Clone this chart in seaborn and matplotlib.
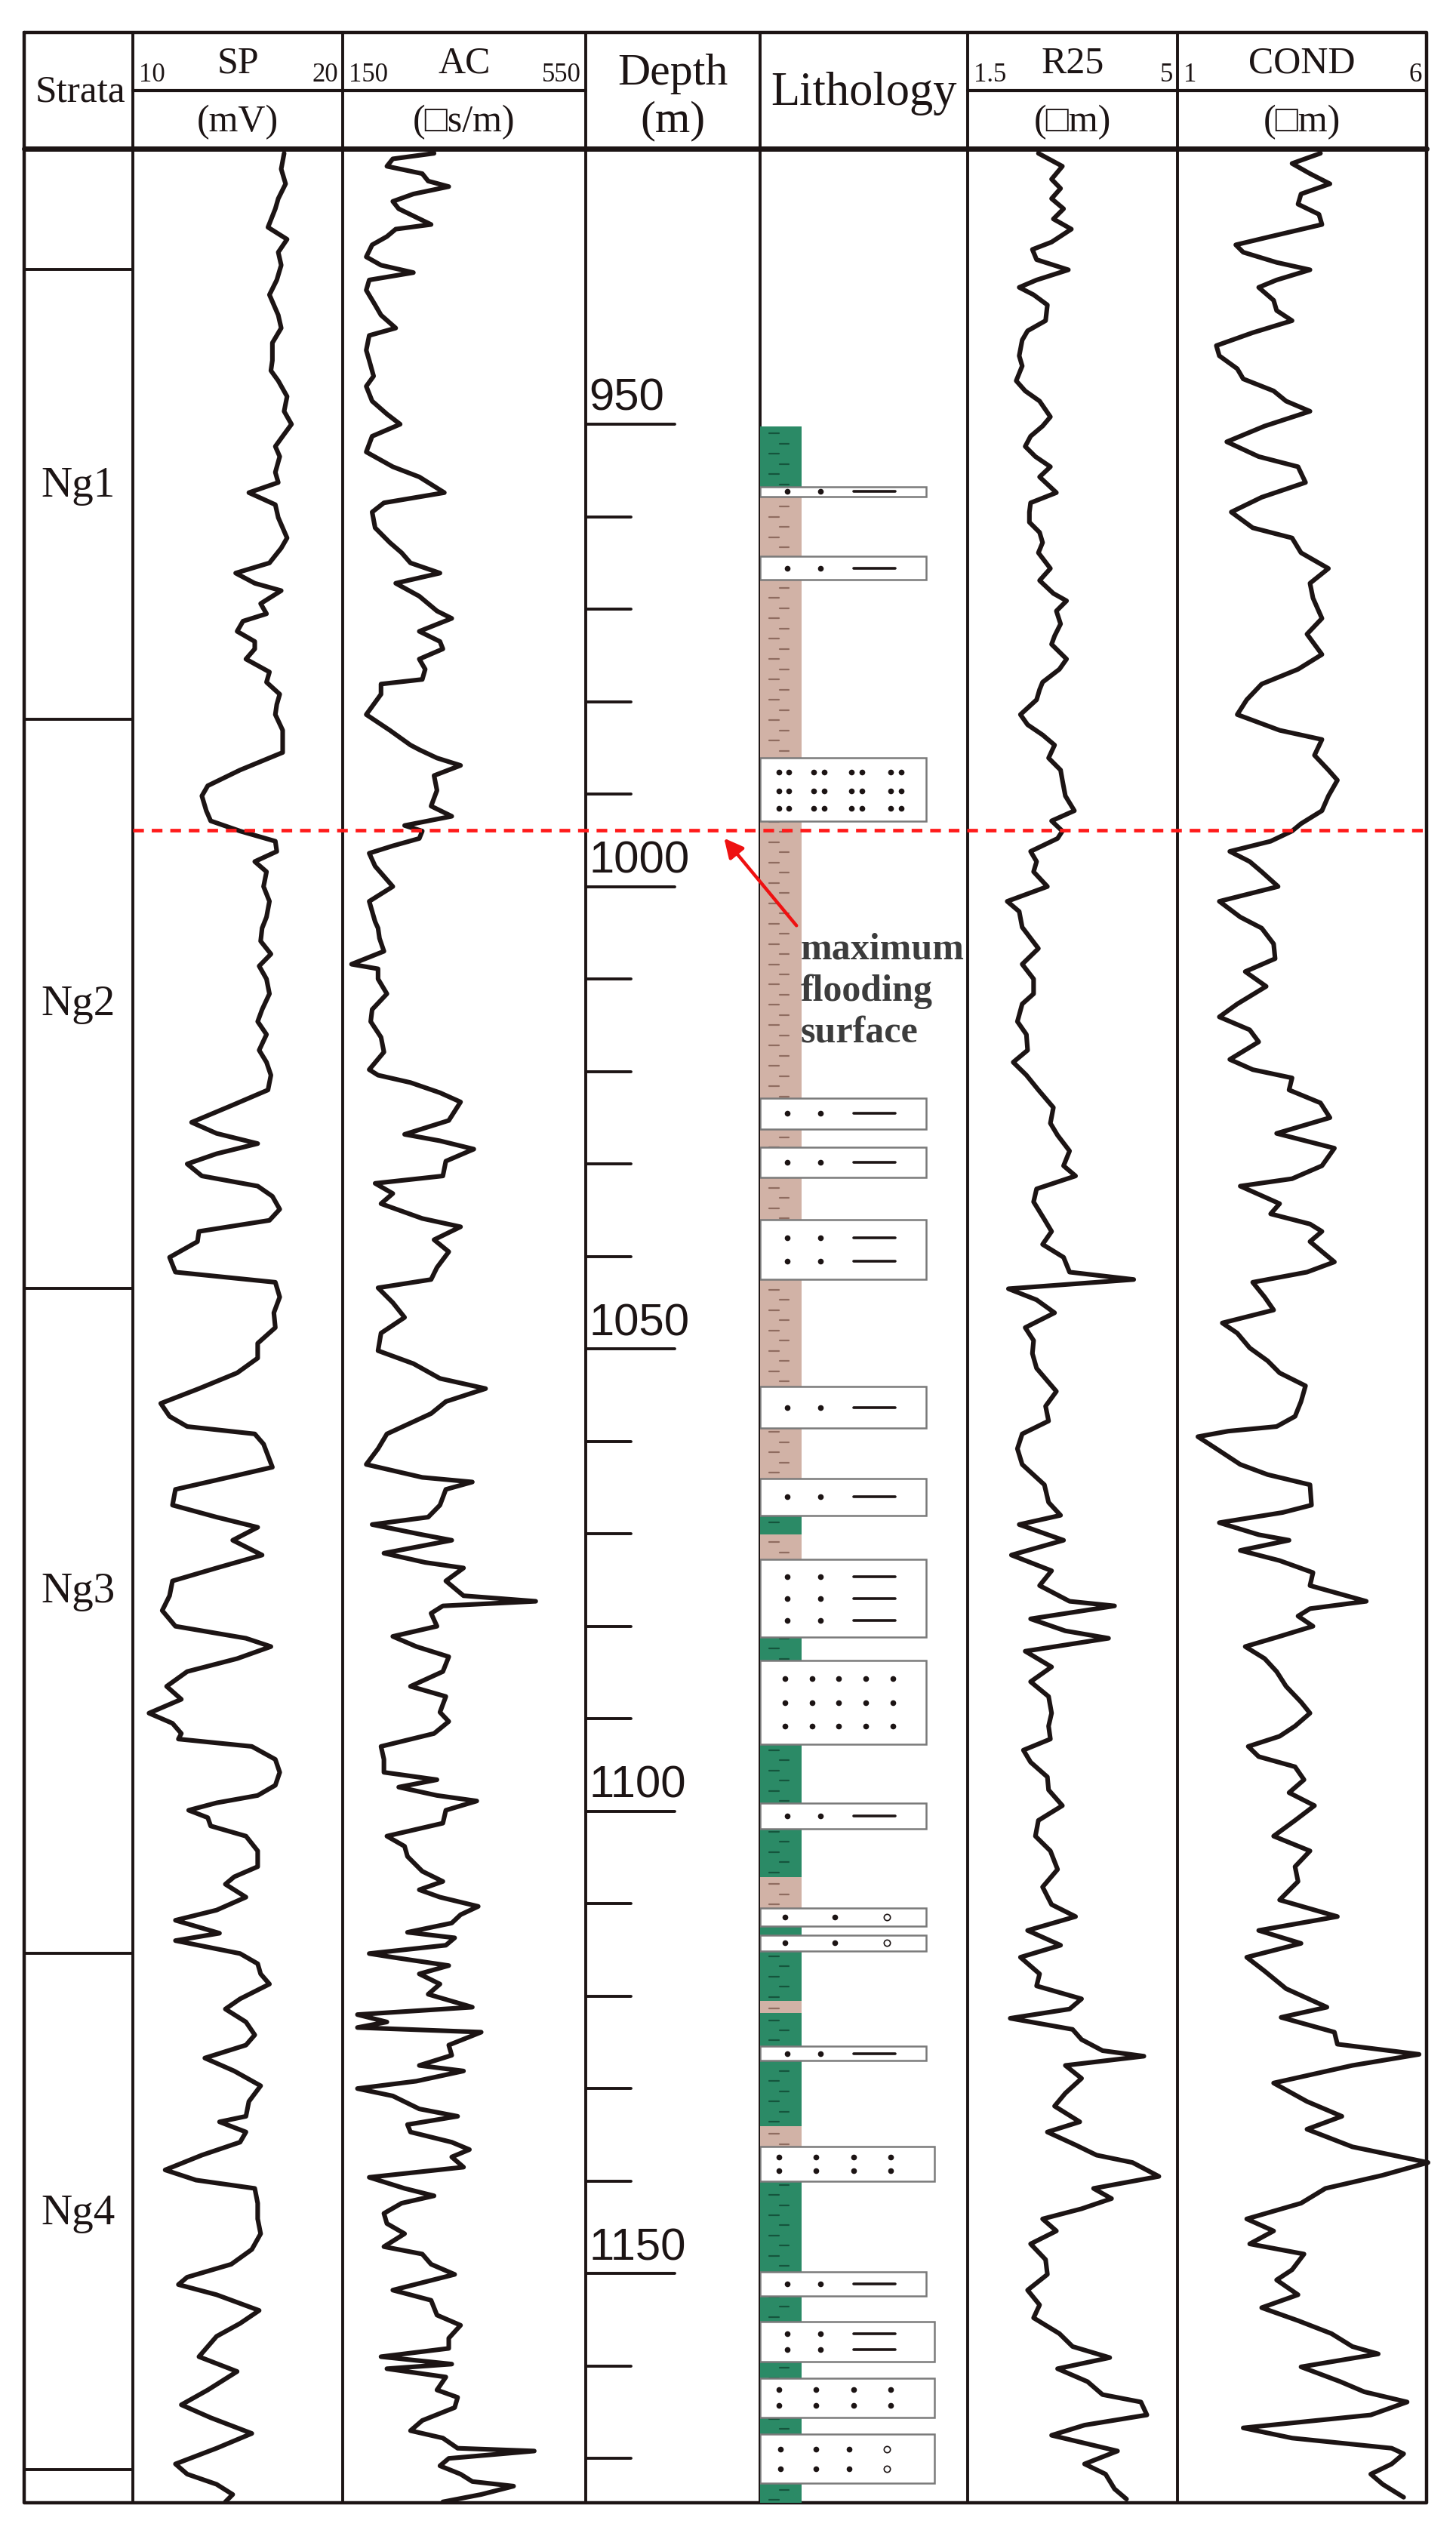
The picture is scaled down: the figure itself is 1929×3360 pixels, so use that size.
import numpy as np
import matplotlib.pyplot as plt
import seaborn as sns

sns.set_style('white')
plt.rcParams['font.family'] = ['Liberation Serif', 'DejaVu Sans']

sp_depth = [920.7, 922.4, 924.0, 925.6, 926.7, 928.7, 930.0, 931.4, 932.8, 934.4,
            936.0, 938.2, 939.6, 941.2, 943.1, 944.2, 945.3, 947.0, 948.6, 950.0,
            951.3, 952.4, 953.5, 955.2, 956.3, 957.4, 958.7, 960.1, 962.3, 963.4,
            965.0, 966.1, 967.2, 968.0, 969.4, 970.5, 971.3, 972.4, 973.5, 974.3,
            975.4, 976.8, 977.9, 979.2, 980.3, 981.4, 983.1, 985.5, 987.4, 989.1,
            990.2, 991.8, 992.9, 994.0, 995.1, 996.2, 997.3, 998.4, 1000.0, 1001.6,
            1003.3,
            1004.5, 1005.9, 1007.3, 1008.6, 1010.0, 1011.6, 1013.3, 1014.6, 1016.0, 1017.7,
            1019.0, 1020.4, 1022.0, 1023.7, 1025.5, 1026.7, 1027.8, 1028.9, 1030.0, 1031.3,
            1032.4, 1033.5, 1034.9, 1036.1, 1037.3, 1038.4, 1040.1, 1041.7, 1042.8, 1044.4,
            1046.1, 1047.7, 1049.4, 1051.0, 1052.6, 1054.3, 1055.9, 1057.3, 1058.4, 1059.2,
            1060.3, 1062.8, 1063.9, 1065.2, 1066.9, 1068.2, 1069.3, 1070.7, 1072.3, 1073.7,
            1075.1, 1076.7, 1078.3, 1080.0, 1081.3, 1082.2, 1083.5, 1084.9, 1086.5, 1087.9,
            1089.4, 1090.5, 1091.6, 1092.2, 1093.0, 1094.4, 1095.8, 1097.2, 1098.3, 1099.1,
            1099.9, 1100.7, 1101.6, 1102.7, 1104.3, 1106.0, 1107.1, 1107.9, 1109.3, 1110.7,
            1111.8, 1113.2, 1114.0, 1115.4, 1116.5, 1117.6, 1118.7, 1120.3, 1121.4, 1122.8,
            1124.2, 1125.3, 1126.7, 1128.1, 1129.7, 1131.4, 1133.0, 1133.6, 1134.7, 1135.8,
            1137.2, 1138.8, 1139.9, 1140.8, 1142.4, 1144.1, 1145.7, 1147.4, 1149.0, 1150.4,
            1151.2, 1152.3, 1154.0, 1155.4, 1156.8, 1157.9, 1159.0, 1160.6, 1162.6, 1164.2,
            1165.6, 1167.3, 1168.9, 1170.6, 1171.7, 1172.8, 1173.9, 1174.7]
sp_value = [17.21, 17.07, 17.28, 16.93, 16.79, 16.44, 17.35, 16.93, 17.07, 16.86,
            16.51, 16.93, 17.07, 16.65, 16.65, 16.58, 16.93, 17.35, 17.21, 17.56,
            17.14, 16.79, 17.0, 16.79, 16.93, 15.53, 16.79, 16.93, 17.35, 17.07,
            16.51, 14.90, 15.81, 17.07, 16.09, 16.37, 15.25, 14.97, 15.81, 15.81,
            15.39, 16.51, 16.37, 17.0, 16.86, 16.79, 17.14, 17.14, 15.11, 13.57,
            13.29, 13.50, 13.71, 15.11, 16.79, 16.86, 15.81, 16.37, 16.23, 16.51,
            16.37,
            16.16, 16.09, 16.58, 16.02, 16.37, 16.51, 16.16, 15.95, 16.37, 16.02,
            16.37, 16.58, 16.44, 14.69, 12.80, 13.99, 15.95, 13.99, 12.59, 13.29,
            15.95, 16.65, 17.0, 16.51, 13.15, 13.08, 11.75, 12.03, 16.79, 17.0,
            16.72, 16.79, 15.95, 15.95, 14.97, 13.15, 11.33, 11.75, 12.59, 15.81,
            16.23, 16.65, 14.55, 12.03, 11.89, 13.99, 15.95, 14.76, 16.16, 13.99,
            11.89, 11.75, 11.40, 12.03, 15.39, 16.58, 14.97, 12.59, 11.61, 12.31,
            10.77, 11.89, 12.31, 12.17, 15.67, 16.79, 17.0, 16.79, 15.95, 13.99,
            12.66, 13.57, 13.71, 15.39, 15.95, 15.95, 14.83, 14.41, 15.39, 13.99,
            12.03, 14.13, 12.03, 15.11, 15.95, 16.09, 16.51, 15.11, 14.41, 15.39,
            15.81, 15.39, 13.43, 14.83, 16.09, 15.53, 15.39, 14.13, 15.39, 15.11,
            13.29, 11.54, 13.01, 15.81, 15.95, 15.95, 16.09, 15.67, 14.69, 12.59,
            12.17, 13.99, 16.02, 15.11, 13.99, 13.57, 13.15, 14.97, 13.57, 12.31,
            13.71, 15.67, 13.99, 12.03, 12.59, 13.99, 14.76, 14.41]

ac_depth = [920.7, 921.3, 922.1, 922.9, 923.7, 924.3, 925.1, 925.9, 926.7, 928.4,
            928.9, 929.7, 930.6, 931.9, 932.8, 933.6, 934.4, 935.5, 937.1, 938.2,
            939.6, 940.4, 942.0, 943.1, 944.8, 945.9, 947.5, 948.9, 950.0, 951.3,
            953.0, 954.6, 955.7, 957.4, 958.5, 959.5, 961.2, 962.8, 963.9, 965.0,
            966.1, 967.2, 968.6, 970.2, 971.0, 972.4, 973.5, 974.3, 975.4, 976.5,
            977.6, 978.1, 979.2, 981.4, 983.1, 984.7, 985.2, 986.1, 986.9, 988.0,
            989.6, 991.3, 992.4, 993.4, 994.0, 994.8, 995.6, 996.4, 997.8, 1000.0,
            1001.6, 1003.8,
            1004.5, 1005.6, 1007.0, 1008.4, 1008.9, 1010.0, 1011.6, 1013.3, 1014.6, 1016.3,
            1017.9, 1019.8, 1020.4, 1021.2, 1022.3, 1023.3, 1025.3, 1026.8, 1027.5, 1028.4,
            1029.7, 1031.3, 1032.1, 1033.2, 1034.3, 1035.9, 1036.8, 1038.2, 1039.5, 1041.2,
            1042.5, 1043.4, 1045.0, 1046.6, 1048.3, 1050.2, 1051.6, 1053.2, 1054.3, 1055.7,
            1057.0, 1059.2, 1060.8, 1062.5, 1063.9, 1064.4, 1065.2, 1066.9, 1068.2, 1069.0,
            1070.1, 1070.7, 1072.1, 1073.1, 1073.7, 1075.1, 1076.7, 1077.3, 1077.8, 1078.6,
            1080.0, 1081.1, 1082.2, 1083.3, 1084.9, 1086.5, 1087.6, 1089.3,
            1090.3, 1091.6, 1093.0, 1094.4, 1095.8, 1096.6, 1097.4, 1098.3, 1098.9, 1099.9,
            1101.3, 1102.7, 1103.8, 1104.9, 1106.5, 1107.6, 1108.5, 1109.3, 1110.3, 1111.2,
            1112.1, 1113.1, 1113.7, 1114.5, 1115.4, 1115.9, 1116.7, 1117.6, 1118.7, 1119.8,
            1121.2, 1122.0, 1122.8, 1123.4, 1123.9, 1125.3, 1126.4, 1127.5, 1128.1, 1129.2,
            1130.0, 1130.8, 1132.2, 1133.0, 1133.9, 1134.7, 1135.8, 1136.6, 1137.4, 1138.5,
            1139.6, 1140.8, 1141.6, 1142.4, 1143.5, 1144.6, 1145.7, 1147.1, 1147.9, 1149.0,
            1150.1, 1151.8, 1152.9, 1154.5, 1155.6, 1157.0, 1158.1, 1159.0, 1159.8, 1160.3,
            1161.2, 1162.6, 1163.4, 1164.5, 1165.9, 1167.0, 1167.8, 1168.9, 1169.2, 1170.0,
            1170.8, 1171.7, 1172.5, 1173.0, 1173.9, 1174.7]
ac_value = [300.4, 232.5, 222.8, 281.0, 290.7, 324.6, 266.4, 232.5, 242.2, 295.5,
            237.3, 222.8, 198.5, 188.8, 213.1, 266.4, 193.7, 188.8, 203.4, 213.1,
            237.3, 193.7, 188.8, 193.7, 200.9, 188.8, 198.5, 222.8, 244.6, 198.5,
            188.8, 232.5, 276.1, 317.3, 217.9, 198.5, 203.4, 227.6, 247.0, 261.6,
            310.1, 237.3, 276.1, 305.2, 329.5, 276.1, 310.1, 314.9, 276.1, 285.8,
            281.0, 213.1, 213.1, 188.8, 227.6, 261.6, 276.1, 305.2, 344.0, 300.4,
            305.2, 295.5, 329.5, 251.9, 281.0, 276.1, 232.5, 193.7, 203.4, 232.5,
            193.7, 203.4,
            208.2, 210.6, 217.9, 164.6, 208.2, 208.2, 222.8, 198.5, 196.1, 213.1,
            217.9, 193.7, 208.2, 261.6, 310.1, 344.0, 324.6, 251.9, 310.1, 365.8,
            319.8, 314.9, 203.4, 232.5, 213.1, 281.0, 344.0, 300.4, 324.6, 305.2,
            295.5, 208.2, 232.5, 251.9, 213.1, 208.2, 266.4, 310.1, 385.2, 319.8,
            295.5, 222.8, 208.2, 188.8, 281.0, 363.4, 319.8, 310.1, 290.7, 198.5,
            281.0, 329.5, 217.9, 285.8, 348.9, 319.8, 348.9, 467.7, 314.9, 295.5,
            305.2, 232.5, 271.3, 324.6, 314.9, 261.6, 319.8, 310.1,
            324.6, 300.4, 213.1, 217.9, 217.9, 305.2, 242.2, 305.2, 370.7, 319.8,
            314.9, 222.8, 251.9, 256.7, 281.0, 314.9, 276.1, 310.1, 373.1, 344.0,
            329.5, 256.7, 334.3, 319.8, 193.7, 242.2, 324.6, 276.1, 310.1, 290.7,
            363.4, 174.3, 222.8, 174.3, 378.0, 324.6, 329.5, 276.1, 348.9, 271.3,
            174.3, 232.5, 276.1, 339.2, 256.7, 261.6, 329.5, 358.6, 329.5, 348.9,
            193.7, 251.9, 300.4, 247.0, 217.9, 222.8, 251.9, 217.9, 281.0, 295.5,
            334.3, 232.5, 295.5, 305.2, 344.0, 324.6, 324.6, 213.1, 329.5, 222.8,
            319.8, 305.2, 339.2, 334.3, 281.0, 261.6, 314.9, 339.2, 465.3, 324.6,
            310.1, 344.0, 363.4, 431.3, 378.0, 314.9]

r25_depth = [920.7, 922.1, 923.5, 924.5, 925.6, 926.7, 927.8, 928.9, 930.3, 931.1,
             932.2, 933.3, 934.4, 935.2, 936.0, 937.1, 938.8, 939.9, 940.9, 942.6,
             943.7, 945.3, 946.4, 947.5, 949.2, 950.2, 951.3, 952.4, 953.5, 954.6,
             955.7, 957.4, 958.5, 959.5, 960.6, 961.7, 962.8, 963.9, 965.6, 966.9,
             968.3, 969.1, 970.2, 971.6, 972.9, 973.8, 975.4, 976.5, 977.9, 978.7,
             979.8, 981.4, 982.5, 983.6, 984.7, 986.1, 987.4, 988.5, 990.2, 991.8,
             992.9, 994.0, 994.8, 996.2, 997.3, 998.4, 1000.0, 1001.6, 1002.7, 1004.4,
             1006.7, 1008.4, 1010.0, 1011.6, 1012.7, 1014.6, 1016.0, 1017.7, 1019.0, 1020.4,
             1022.0, 1023.9, 1025.6, 1026.9, 1028.6, 1030.2, 1031.3, 1032.7, 1034.1, 1036.0,
             1037.3, 1038.7, 1040.1, 1041.7, 1042.5, 1043.5, 1044.7, 1046.1, 1047.7, 1049.1,
             1050.5, 1052.1, 1054.6, 1056.2, 1057.8, 1059.2, 1060.8, 1062.5, 1064.7, 1066.6,
             1068.0, 1069.0, 1070.7, 1072.3, 1074.0, 1075.6, 1077.3, 1077.8, 1079.2, 1080.5,
             1081.3, 1082.7, 1084.4, 1086.0, 1087.6,
             1089.4, 1090.8, 1092.2, 1093.4, 1094.7, 1096.3, 1097.7, 1099.4, 1101.0, 1102.7,
             1104.3, 1106.3, 1108.2, 1110.1, 1111.4, 1112.9, 1114.5, 1115.8, 1117.6, 1118.9,
             1120.3, 1121.4, 1122.4, 1123.6, 1124.7, 1125.9, 1126.5, 1127.5, 1128.9, 1130.5,
             1131.9, 1133.6, 1134.7, 1136.1, 1137.2, 1138.0, 1139.5, 1140.8, 1141.9, 1143.0,
             1144.1, 1145.4, 1146.8, 1148.5, 1150.1, 1151.8, 1153.4, 1154.8, 1156.5, 1157.9,
             1159.1, 1160.3, 1161.7, 1163.1, 1163.9, 1165.3, 1166.4, 1167.5, 1169.2, 1170.6,
             1171.7, 1173.3, 1174.4]
r25_value = [2.68, 3.08, 2.90, 3.05, 2.90, 3.10, 2.93, 3.23, 2.90, 2.58,
             2.65, 3.18, 2.65, 2.36, 2.60, 2.83, 2.80, 2.50, 2.41, 2.36,
             2.41, 2.31, 2.46, 2.70, 2.88, 2.75, 2.55, 2.46, 2.63, 2.88,
             2.70, 2.98, 2.55, 2.53, 2.53, 2.70, 2.75, 2.68, 2.88, 2.70,
             2.93, 3.15, 2.98, 3.05, 2.95, 2.90, 3.15, 3.03, 2.75, 2.70,
             2.65, 2.38, 2.50, 2.75, 2.95, 2.85, 3.05, 3.08, 3.13, 3.28,
             2.90, 3.08, 3.00, 2.55, 2.65, 2.60, 2.83, 2.16, 2.36, 2.41,
             2.68, 2.41, 2.60, 2.60, 2.41, 2.33, 2.48, 2.50, 2.26, 2.48,
             2.68, 2.93, 2.88, 3.00, 3.20, 3.10, 3.30, 2.65, 2.60, 2.78,
             2.90, 2.75, 3.10, 3.20, 4.27, 2.18, 2.65, 2.95, 2.46, 2.60,
             2.58, 2.65, 2.98, 2.80, 2.85, 2.41, 2.33, 2.41, 2.78, 2.85,
             3.05, 2.36, 3.10, 2.23, 2.90, 2.70, 3.20, 3.95, 2.55, 3.13,
             3.85, 2.46, 2.90, 2.55, 2.85,
             2.90, 2.85, 2.88, 2.43, 2.55, 2.83, 2.85, 3.08, 2.68, 2.63,
             2.88, 3.00, 2.75, 2.90, 3.30, 2.50, 3.05, 2.38, 2.70, 2.65,
             3.40, 3.20, 2.21, 3.25, 3.40, 3.75, 4.44, 3.13, 3.40, 3.13,
             2.95, 3.37, 2.83, 3.30, 3.65, 4.25, 4.69, 3.60, 3.90, 3.40,
             2.75, 2.98, 2.55, 2.80, 2.83, 2.50, 2.70, 2.60, 3.03, 3.25,
             3.87, 3.00, 3.50, 3.75, 4.39, 4.49, 3.45, 2.90, 4.00, 3.45,
             3.80, 3.95, 4.15]

cond_depth = [920.7, 921.8, 922.9, 924.0, 925.1, 926.2, 927.3, 928.4, 929.7, 930.6,
              931.4, 932.5, 933.3, 934.4, 935.2, 936.6, 937.7, 938.8, 940.1, 941.5,
              942.6, 944.0, 945.1, 946.4, 947.5, 948.6, 950.2, 951.9, 953.5, 954.6,
              956.3, 957.9, 959.5, 961.2, 962.3, 963.9, 965.6, 967.2, 968.8, 971.0,
              972.7, 974.9, 976.5, 978.1, 979.8, 981.4, 983.1, 984.1, 985.8, 987.4,
              988.5, 990.2, 991.8, 993.2, 994.0, 995.1, 996.2, 997.3, 998.4, 1000.0,
              1001.6, 1003.3,
              1004.5, 1006.2, 1007.8, 1009.2, 1010.8, 1012.7, 1014.1, 1015.5, 1016.8, 1018.7,
              1019.8, 1020.7, 1022.0, 1023.4, 1025.0, 1026.7, 1028.3, 1030.2, 1031.6, 1032.4,
              1034.3, 1035.4, 1036.5, 1037.3, 1038.4, 1040.6, 1041.7, 1042.8, 1044.4, 1045.8,
              1047.2, 1048.3, 1049.9, 1051.3, 1052.6, 1054.0, 1055.7, 1057.3, 1058.4, 1058.9,
              1059.5, 1060.8, 1062.5, 1063.6, 1064.7, 1066.9, 1067.7, 1068.8, 1070.1, 1070.7,
              1071.8, 1072.9, 1074.2, 1075.6, 1077.3, 1078.1, 1078.9, 1080.0, 1081.1, 1082.2,
              1083.5, 1084.9, 1086.5, 1088.2,
              1089.4, 1090.8, 1091.9, 1093.0, 1094.1, 1095.2, 1096.6, 1098.0, 1099.4, 1101.0,
              1102.7, 1104.3, 1106.0, 1107.6, 1109.6, 1111.4, 1112.9, 1114.3, 1115.8, 1117.3,
              1119.2, 1121.2, 1122.3, 1123.9, 1125.2, 1126.3, 1127.5, 1129.4, 1131.4, 1133.0,
              1134.4, 1136.3, 1138.0, 1139.4, 1140.8, 1142.4, 1144.1, 1145.4, 1146.8, 1147.9,
              1149.6, 1150.7, 1152.3, 1153.7, 1155.1, 1156.5, 1157.9, 1158.7, 1160.1, 1161.7,
              1162.8, 1163.9, 1165.3, 1166.7, 1167.8, 1168.9, 1169.5, 1170.6, 1171.7, 1172.8,
              1174.2]
cond_value = [3.87, 3.30, 3.66, 4.06, 3.48, 3.42, 3.84, 3.90, 2.87, 2.17,
              2.32, 2.99, 3.66, 2.99, 2.63, 2.93, 2.99, 3.30, 2.51, 1.78,
              1.84, 2.20, 2.32, 2.93, 3.18, 3.66, 2.75, 1.99, 2.63, 3.42,
              3.57, 2.69, 2.08, 2.51, 3.30, 3.48, 4.03, 3.66, 3.72, 3.90,
              3.60, 3.90, 3.42, 2.69, 2.39, 2.20, 3.05, 3.90, 3.75, 4.03,
              4.21, 4.03, 3.90, 3.48, 3.30, 2.87, 2.05, 2.45, 2.69, 3.02,
              1.84, 2.26,
              2.69, 2.93, 2.96, 2.36, 2.78, 2.20, 1.84, 2.45, 2.63, 2.05,
              2.51, 3.30, 3.24, 3.87, 4.06, 2.99, 4.15, 3.90, 3.30, 2.26,
              3.05, 2.87, 3.66, 3.90, 3.66, 4.15, 3.60, 2.51, 2.75, 2.93,
              1.90, 2.20, 2.45, 2.81, 3.05, 3.57, 3.48, 3.36, 2.99, 2.02,
              1.41, 1.78, 2.26, 2.81, 3.66, 3.69, 3.11, 1.84, 2.63, 3.24,
              2.26, 3.05, 3.72, 3.66, 4.79, 3.66, 3.42, 3.72, 3.05, 2.36,
              2.75, 2.99, 3.18, 3.48,
              3.66, 3.36, 3.05, 2.42, 2.63, 3.36, 3.54, 3.24, 3.75, 3.36,
              2.93, 3.66, 3.36, 3.42, 3.05, 4.21, 2.63, 3.48, 2.39, 2.75,
              3.18, 4.00, 3.08, 4.15, 4.21, 5.85, 4.51, 2.93, 3.60, 4.30,
              3.60, 4.51, 6.03, 5.10, 3.97, 3.48, 2.39, 2.93, 2.45, 3.54,
              3.30, 2.99, 3.42, 2.69, 3.42, 4.09, 4.51, 5.03, 3.48, 4.27,
              4.75, 5.61, 4.88, 2.32, 3.30, 5.30, 5.54, 5.30, 4.88, 5.12,
              5.54]

# strata units
strata_bounds = [933.3, 981.9, 1043.5, 1115.4, 1171.2]
strata_names = ['Ng1', 'Ng2', 'Ng3', 'Ng4']
strata_label_depth = [956.7, 1012.8, 1076.3, 1143.5]

# mudstone column
mud_top = [950.2, 957.0, 1068.0, 1070.1, 1072.8, 1107.1, 1110.5, 1120.5, 1121.8, 1134.1, 1136.3]
mud_bot = [957.0, 1068.0, 1070.1, 1072.8, 1107.1, 1110.5, 1120.5, 1121.8, 1134.1, 1136.3, 1174.8]
mud_kind = ['green', 'brown', 'green', 'brown', 'green', 'brown',
            'green', 'brown', 'green', 'brown', 'green']

# sand / silt beds
bed_top = [956.8, 964.3, 986.1, 1022.9, 1028.2, 1036.0, 1054.1, 1064.0, 1072.8, 1083.7,
           1099.1, 1110.5, 1113.4, 1125.4, 1136.3, 1149.8, 1155.2, 1161.3, 1167.4]
bed_bot = [957.8, 966.8, 992.9, 1026.2, 1031.5, 1042.5, 1058.6, 1068.0, 1081.2, 1092.8,
           1101.9, 1112.4, 1115.1, 1127.0, 1140.0, 1152.4, 1159.5, 1165.6, 1172.7]
bed_kind = ['dl1', 'dl1', 'peb', 'dl1', 'dl1', 'dl2', 'dl1', 'dl1', 'dl3', 'd3',
            'dl1', 'dc1', 'dc1', 'dl1', 'd2', 'dl1', 'dl2', 'd2', 'dc2']

flood_depth = 993.9
depth_ticks = list(range(960, 1171, 10))
depth_labels = [950, 1000, 1050, 1100, 1150]

# ---------------- layout ----------------
W, H = 1929, 3360
D0, D1 = 920.2, 1174.8
ink = '#1c1414'
col_x = [32, 176, 454, 776, 1007, 1282, 1560, 1890]
y_top, y_mid, y_head, y_bot = 43, 120, 197, 3316

fig = plt.figure(figsize=(W / 100, H / 100), dpi=100)
grid = fig.add_axes([0, 0, 1, 1])
grid.set_xlim(0, W)
grid.set_ylim(H, 0)
grid.axis('off')

# table frame
grid.plot([col_x[0], col_x[-1], col_x[-1], col_x[0], col_x[0]],
          [y_top, y_top, y_bot, y_bot, y_top], color=ink, lw=3.2)
for x in col_x[1:-1]:
    grid.plot([x, x], [y_top, y_bot], color=ink, lw=2.8)
grid.plot([col_x[0], col_x[-1]], [y_head, y_head], color=ink, lw=5)
grid.plot([col_x[1], col_x[3]], [y_mid, y_mid], color=ink, lw=3)
grid.plot([col_x[5], col_x[7]], [y_mid, y_mid], color=ink, lw=3)

# header texts
hfont = ['Liberation Serif', 'DejaVu Sans']
grid.text((col_x[0] + col_x[1]) / 2 + 2, 122, 'Strata', ha='center', va='center',
          fontsize=37, color=ink, family=hfont)
grid.text((col_x[3] + col_x[4]) / 2, 98, 'Depth', ha='center', va='center',
          fontsize=43, color=ink, family=hfont)
grid.text((col_x[3] + col_x[4]) / 2, 160, '(m)', ha='center', va='center',
          fontsize=43, color=ink, family=hfont)
grid.text((col_x[4] + col_x[5]) / 2, 124, 'Lithology', ha='center', va='center',
          fontsize=45, color=ink, family=hfont)

logs = [('SP', '10', '20', '(mV)', 1),
        ('AC', '150', '550', '(\u25a1s/m)', 2),
        ('R25', '1.5', '5', '(\u25a1m)', 5),
        ('COND', '1', '6', '(\u25a1m)', 6)]
for name, lo, hi, unit, i in logs:
    xc = (col_x[i] + col_x[i + 1]) / 2
    grid.text(xc, 84, name, ha='center', va='center', fontsize=36, color=ink, family=hfont)
    grid.text(col_x[i] + 8, 100, lo, ha='left', va='center', fontsize=25, color=ink, family=hfont)
    grid.text(col_x[i + 1] - 6, 100, hi, ha='right', va='center', fontsize=25, color=ink, family=hfont)
    grid.text(xc, 162, unit, ha='center', va='center', fontsize=36, color=ink, family=hfont)


def track(i0, i1=None):
    i1 = i0 + 1 if i1 is None else i1
    ax = fig.add_axes([col_x[i0] / W, 1 - y_bot / H,
                       (col_x[i1] - col_x[i0]) / W, (y_bot - y_head) / H])
    ax.set_ylim(D1, D0)
    ax.axis('off')
    ax.patch.set_alpha(0)
    return ax


# ---------------- strata column ----------------
ax_st = track(0)
ax_st.set_xlim(0, 1)
for d in strata_bounds:
    ax_st.axhline(d, color=ink, lw=2.8)
for name, d in zip(strata_names, strata_label_depth):
    ax_st.text(0.5, d, name, ha='center', va='center', fontsize=41, color=ink, family=hfont)

# ---------------- log curves ----------------
curves = [(sp_value, sp_depth, 1, (10, 20)),
          (ac_value, ac_depth, 2, (150, 550)),
          (r25_value, r25_depth, 5, (1.5, 5)),
          (cond_value, cond_depth, 6, (1, 6))]
for vals, deps, i, lim in curves:
    ax = track(i)
    sns.lineplot(x=vals, y=deps, sort=False, estimator=None, color=ink, lw=4.4,
                 legend=False, ax=ax)
    ax.lines[-1].set_solid_joinstyle('round')
    ax.lines[-1].set_solid_capstyle('round')
    ax.lines[-1].set_clip_on(False)
    ax.set_xlim(*lim)
    ax.set_ylim(D1, D0)
    ax.axis('off')

# ---------------- depth column ----------------
ax_d = track(3)
ax_d.set_xlim(0, 1)
for d in depth_ticks:
    if d not in depth_labels:
        ax_d.plot([0, 0.26], [d, d], color=ink, lw=2.8)
for d in depth_labels:
    ax_d.plot([0, 0.51], [d, d], color=ink, lw=2.8)
    ax_d.text(0.02, d - 0.5, str(d), ha='left', va='bottom', fontsize=43,
              color=ink, family=['Liberation Sans', 'DejaVu Sans'])

# ---------------- lithology column ----------------
ax_l = track(4)
ax_l.set_xlim(0, 1)
fill = {'green': '#2b8a66', 'brown': '#d1b2a6'}
dash = {'green': '#15553d', 'brown': '#8f6c60'}
mud_c = [(t + b) / 2 for t, b in zip(mud_top, mud_bot)]
mud_h = [b - t for t, b in zip(mud_top, mud_bot)]
ax_l.barh(mud_c, width=0.2, height=mud_h, left=0,
          color=[fill[k] for k in mud_kind], linewidth=0, zorder=1)
for t, b, k in zip(mud_top, mud_bot, mud_kind):
    for j, y in enumerate(np.arange(t + 0.8, b - 0.3, 1.1)):
        x0 = 0.045 if j % 2 == 0 else 0.095
        ax_l.plot([x0, x0 + 0.045], [y, y], color=dash[k], lw=1.6, zorder=2)

patterns = {
    'dl1': ([0.5], [0.13, 0.29], 'line'),
    'dl2': ([0.3, 0.7], [0.13, 0.29], 'line'),
    'dl3': ([0.22, 0.5, 0.78], [0.13, 0.29], 'line'),
    'peb': ([0.23, 0.52, 0.8], [0.09, 0.14, 0.26, 0.31, 0.44, 0.49, 0.63, 0.68], None),
    'd3': ([0.22, 0.5, 0.78], [0.12, 0.25, 0.38, 0.51, 0.64], None),
    'dc1': ([0.5], [0.12, 0.36], 'circle'),
    'd2': ([0.3, 0.7], [0.09, 0.27, 0.45, 0.63], None),
    'dc2': ([0.3, 0.7], [0.1, 0.27, 0.43], 'circle'),
}
wide = {'d2', 'dc2'}
bed_c = [(t + b) / 2 for t, b in zip(bed_top, bed_bot)]
bed_h = [b - t for t, b in zip(bed_top, bed_bot)]
bed_w = [0.84 if (k in wide or t > 1150) else 0.8 for k, t in zip(bed_kind, bed_top)]
ax_l.barh(bed_c, width=bed_w, height=bed_h, left=0, color='white',
          edgecolor='#7a7a7a', linewidth=1.8, zorder=3)
for t, b, k in zip(bed_top, bed_bot, bed_kind):
    rows, dots, extra = patterns[k]
    for r in rows:
        y = t + r * (b - t)
        ax_l.plot(dots, [y] * len(dots), 'o', color=ink, ms=5.5, mew=0, zorder=4)
        if extra == 'line':
            ax_l.plot([0.45, 0.65], [y, y], color=ink, lw=2.6, zorder=4)
        elif extra == 'circle':
            ax_l.plot([0.61], [y], 'o', mfc='white', mec=ink, ms=6, mew=1.2, zorder=4)

# ---------------- flooding surface ----------------
ax_f = track(1, 7)
ax_f.set_xlim(0, 1)
ax_f.set_zorder(5)
ax_f.axhline(flood_depth, color='#ff1a1a', lw=3.4, ls=(0, (3, 2.2)))
ax_f.annotate('', xy=(0.456, 994.6), xytext=(0.514, 1004.4),
              arrowprops=dict(arrowstyle='-|>', color='#ee1111', lw=3.2, mutation_scale=38))
ax_f.text(0.516, 1005.0, 'maximum\nflooding\nsurface', ha='left', va='top',
          fontsize=36, fontweight='bold', color='#3c3c3c', linespacing=1.25,
          family=hfont)

fig.savefig('out.png', dpi=100)
